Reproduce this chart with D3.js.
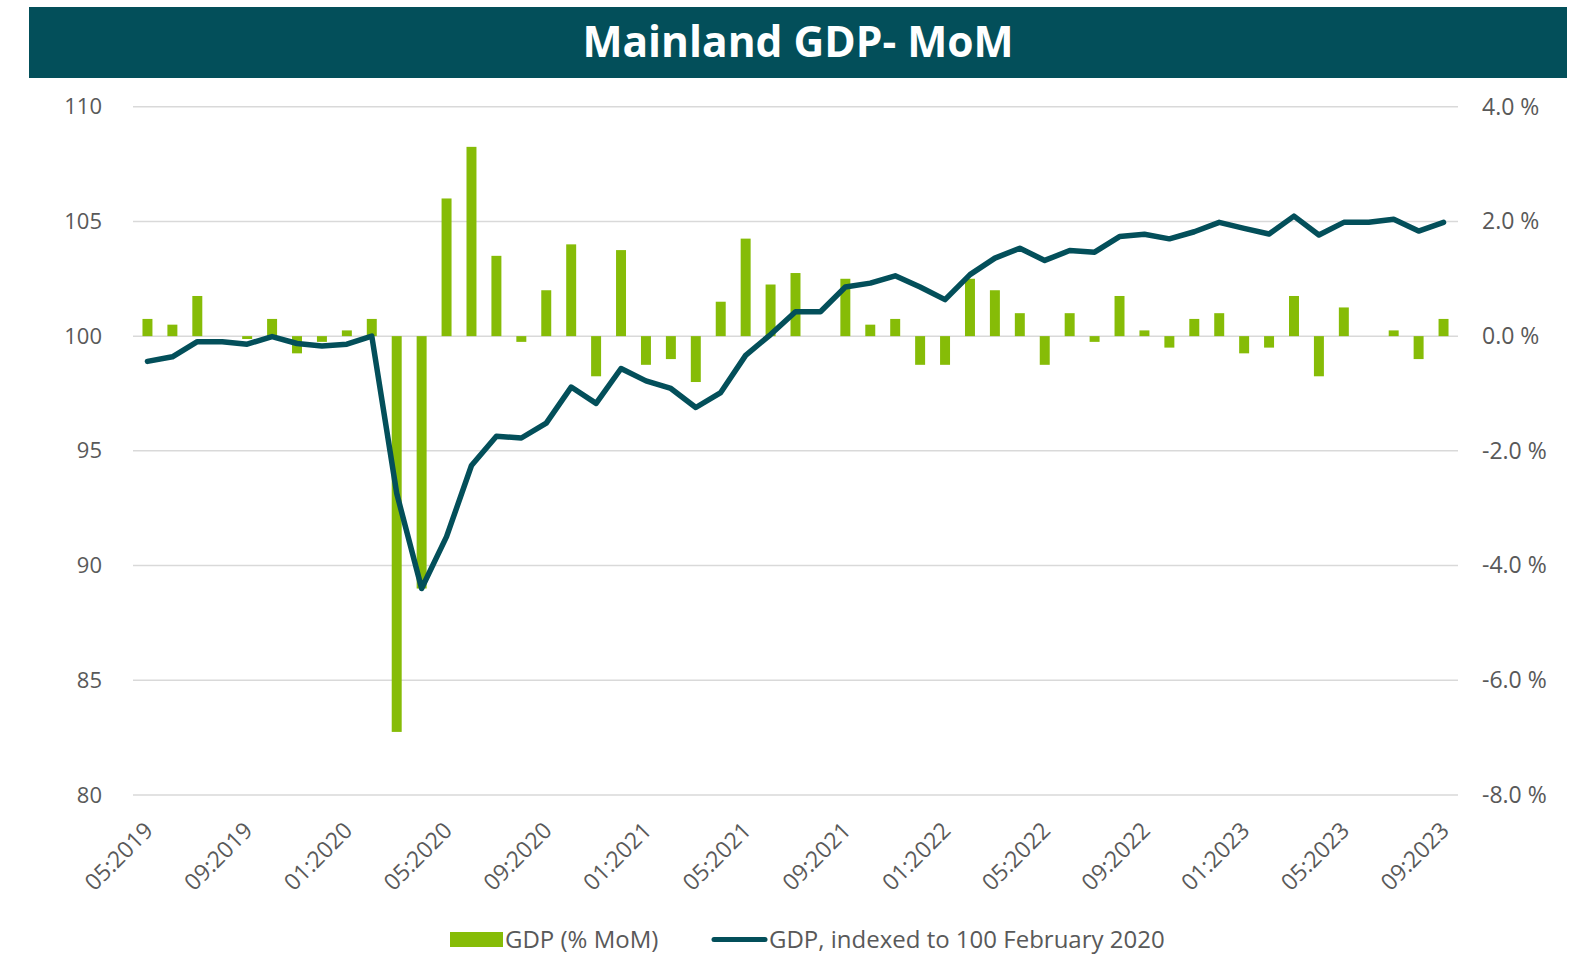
<!DOCTYPE html>
<html>
<head>
<meta charset="utf-8">
<script src="https://cdn.jsdelivr.net/npm/d3@7"></script>
<style>
  body { margin: 0; background: #fff; }
  svg { display: block; font-family: "Open Sans", sans-serif; }
</style>
</head>
<body>
<svg id="chart" width="1589" height="956"></svg>
<script>
// months shown on the x axis
const months = [
  "05:2019","06:2019","07:2019","08:2019","09:2019","10:2019","11:2019","12:2019",
  "01:2020","02:2020","03:2020","04:2020","05:2020","06:2020","07:2020","08:2020",
  "09:2020","10:2020","11:2020","12:2020","01:2021","02:2021","03:2021","04:2021",
  "05:2021","06:2021","07:2021","08:2021","09:2021","10:2021","11:2021","12:2021",
  "01:2022","02:2022","03:2022","04:2022","05:2022","06:2022","07:2022","08:2022",
  "09:2022","10:2022","11:2022","12:2022","01:2023","02:2023","03:2023","04:2023",
  "05:2023","06:2023","07:2023","08:2023","09:2023"
];

// GDP % MoM (right axis)
const momValues = [
  0.3, 0.2, 0.7, 0.0, -0.05, 0.3, -0.3, -0.1, 0.1, 0.3,
  -6.9, -4.4, 2.4, 3.3, 1.4, -0.1, 0.8, 1.6, -0.7, 1.5,
  -0.5, -0.4, -0.8, 0.6, 1.7, 0.9, 1.1, 0.0, 1.0, 0.2,
  0.3, -0.5, -0.5, 1.0, 0.8, 0.4, -0.5, 0.4, -0.1, 0.7,
  0.1, -0.2, 0.3, 0.4, -0.3, -0.2, 0.7, -0.7, 0.5, 0.0,
  0.1, -0.4, 0.3
];

// GDP indexed to 100 in February 2020 (left axis)
const indexValues = [
  98.90, 99.10, 99.76, 99.76, 99.65, 99.98, 99.68, 99.57, 99.65, 100.0,
  93.15, 89.0, 91.26, 94.36, 95.64, 95.56, 96.21, 97.78, 97.07, 98.59,
  98.05, 97.72, 96.89, 97.54, 99.16, 100.07, 101.06, 101.06, 102.14, 102.31,
  102.63, 102.14, 101.59, 102.68, 103.40, 103.83, 103.30, 103.73, 103.66, 104.34,
  104.44, 104.24, 104.55, 104.96, 104.70, 104.45, 105.23, 104.41, 104.96, 104.96,
  105.09, 104.58, 104.96
];

const leftTicks = [80, 85, 90, 95, 100, 105, 110];
const rightTicks = [-8, -6, -4, -2, 0, 2, 4];

const title = "Mainland GDP- MoM";
const legendBar = "GDP (% MoM)";
const legendLine = "GDP, indexed to 100 February 2020";

const teal = "#034f5a";
const green = "#86bc07";
const textCol = "#595959";

const svg = d3.select("#chart");

// title banner
svg.append("rect")
    .attr("x", 29).attr("y", 7)
    .attr("width", 1538).attr("height", 71)
    .attr("fill", teal);
svg.append("text")
    .attr("x", 798).attr("y", 57)
    .attr("text-anchor", "middle")
    .attr("fill", "#fff")
    .attr("font-size", 42.5)
    .attr("font-weight", 700)
    .text(title);

let plotTop = 106.7, plotBottom = 795;

let x = d3.scaleBand()
    .domain(months)
    .range([135, 1456])
    .paddingInner(0.6)
    .paddingOuter(0.3);

let yLeft = d3.scaleLinear().domain([80, 110]).range([plotBottom, plotTop]);
let yRight = d3.scaleLinear().domain([-8, 4]).range([plotBottom, plotTop]);

// gridlines
svg.append("g")
    .selectAll("line")
    .data(leftTicks)
    .join("line")
    .attr("x1", 133).attr("x2", 1458)
    .attr("y1", d => yLeft(d)).attr("y2", d => yLeft(d))
    .attr("stroke", "#d9d9d9")
    .attr("stroke-width", 1.5);

// left axis
let yaxisL = d3.axisLeft(yLeft).tickValues(leftTicks).tickSize(0).tickPadding(0);
svg.append("g")
    .attr("transform", "translate(102,0)")
    .call(yaxisL)
    .call(g => g.select(".domain").remove())
    .selectAll("text")
    .attr("fill", textCol)
    .attr("font-size", 22)
    .attr("font-family", "Open Sans");

// right axis
let yaxisR = d3.axisRight(yRight)
    .tickValues(rightTicks)
    .tickFormat(d => d3.format(".1f")(d).replace("−", "-") + " %")
    .tickSize(0).tickPadding(0);
svg.append("g")
    .attr("transform", "translate(1482,0)")
    .call(yaxisR)
    .call(g => g.select(".domain").remove())
    .selectAll("text")
    .attr("fill", textCol)
    .attr("font-size", 23)
    .attr("font-family", "Open Sans");

// bars
let half = x.bandwidth() / 2;
svg.append("g")
    .selectAll("rect")
    .data(momValues)
    .join("rect")
    .attr("x", (d, i) => x(months[i]))
    .attr("width", x.bandwidth())
    .attr("y", d => Math.min(yRight(d), yRight(0)))
    .attr("height", d => Math.abs(yRight(d) - yRight(0)))
    .attr("fill", green);

// line
let line = d3.line()
    .x((d, i) => x(months[i]) + half)
    .y(d => yLeft(d));
svg.append("path")
    .datum(indexValues)
    .attr("d", line)
    .attr("fill", "none")
    .attr("stroke", teal)
    .attr("stroke-width", 5.5)
    .attr("stroke-linejoin", "round")
    .attr("stroke-linecap", "round");

// x labels, every 4th month
let xaxis = d3.axisBottom(x)
    .tickValues(months.filter((m, i) => i % 4 === 0))
    .tickSize(0).tickPadding(0);
svg.append("g")
    .attr("transform", `translate(0,${plotBottom})`)
    .call(xaxis)
    .call(g => g.select(".domain").remove())
    .selectAll("text")
    .attr("fill", textCol)
    .attr("font-size", 23)
    .attr("font-family", "Open Sans")
    .attr("text-anchor", "end")
    .attr("dy", 0)
    .attr("transform", "translate(7,37) rotate(-45)");

// legend
let lg = svg.append("g").attr("font-size", 24).attr("fill", textCol);
lg.append("rect")
    .attr("x", 450).attr("y", 932)
    .attr("width", 53).attr("height", 15)
    .attr("fill", green);
lg.append("text").attr("x", 505).attr("y", 948).text(legendBar);
lg.append("line")
    .attr("x1", 714).attr("x2", 765)
    .attr("y1", 939.5).attr("y2", 939.5)
    .attr("stroke", teal).attr("stroke-width", 5)
    .attr("stroke-linecap", "round");
lg.append("text").attr("x", 769).attr("y", 948).text(legendLine);
</script>
</body>
</html>
